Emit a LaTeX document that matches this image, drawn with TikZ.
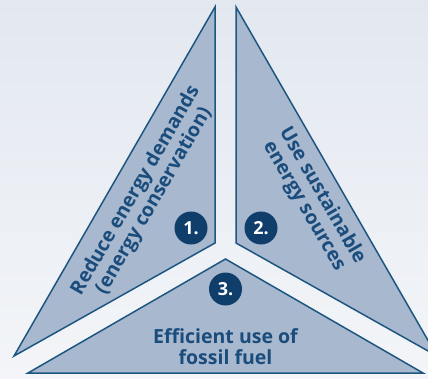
\documentclass[tikz,border=0pt]{standalone}
\usepackage{fontspec}
\setmainfont{Open Sans}
\usepackage{xcolor}
\usepackage{tikz}
\definecolor{skytop}{HTML}{E3E8F0}
\definecolor{skybot}{HTML}{F3F5F8}
\definecolor{partfill}{HTML}{A8B8CE}
\definecolor{partline}{HTML}{1E5682}
\definecolor{navy}{HTML}{0F3E6A}
\definecolor{ink}{HTML}{1A4C7C}
\tikzstyle{part}=[fill=partfill,draw=partline,line width=1.5pt,line join=miter]
\tikzstyle{badge}=[circle,fill=navy,text=white,minimum size=33pt,inner sep=0pt,font=\fontsize{18}{18}\selectfont\bfseries]
\tikzstyle{words}=[text=ink,align=center,inner sep=1pt,font=\fontsize{19.5}{21}\selectfont\bfseries]

\begin{document}
\begin{tikzpicture}[x=1pt,y=1pt]
        \useasboundingbox (0,0) rectangle (428,378);
        \fill [top color=skytop,bottom color=skybot] (0,0) rectangle (428,378);
        % the three parts of the triangle, pulled apart
        \draw [part] (215,371) -- (215,135) -- (14,22) -- cycle;
        \draw [part] (236,371) -- (236,135) -- (437,22) -- cycle;
        \draw [part] (225.5,119) -- (28,5) -- (423,5) -- cycle;
        \node at (191,150) [badge] (one) {1.};
        \node at (261,150) [badge] (two) {2.};
        \node at (225.5,89) [badge] (three) {3.};
        \node at (145,182) [words,rotate=60] (save) {Reduce energy demands\\(energy conservation)};
        \node at (313,177) [words,rotate=-60] (green) {Use sustainable\\energy sources};
        \node at (225.5,31) [words] (fossil) {Efficient use of\\fossil fuel};
      \end{tikzpicture}
\end{document}
